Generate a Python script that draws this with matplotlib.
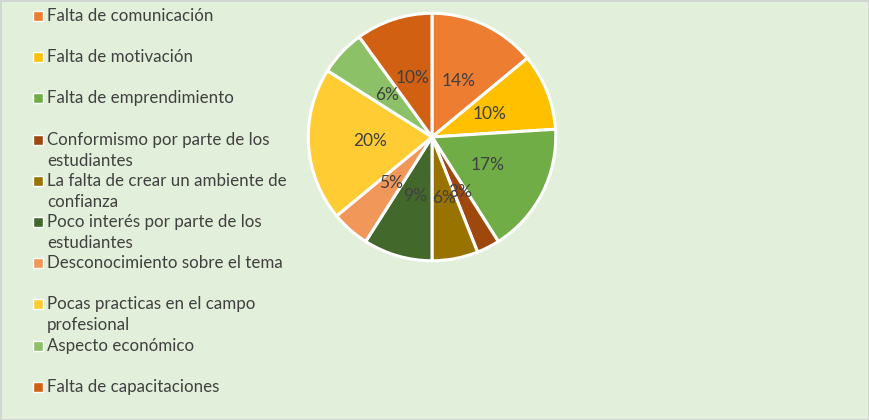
import matplotlib.pyplot as plt
from matplotlib.patches import Rectangle

labels = [
    "Falta de comunicación",
    "Falta de motivación",
    "Falta de emprendimiento",
    "Conformismo por parte de los\nestudiantes",
    "La falta de crear un ambiente de\nconfianza",
    "Poco interés por parte de los\nestudiantes",
    "Desconocimiento sobre el tema",
    "Pocas practicas en el campo\nprofesional",
    "Aspecto económico",
    "Falta de capacitaciones",
]
shares = [14, 10, 17, 3, 6, 9, 5, 20, 6, 10]
colors = ["#ED7D31", "#FFC000", "#70AD47", "#9E480E", "#997300",
          "#43682B", "#F1975A", "#FFCD33", "#8CC168", "#D26012"]

plt.rcParams['font.family'] = ['Lato', 'DejaVu Sans']

W, H = 870, 420
fig = plt.figure(figsize=(W / 100, H / 100), dpi=100)
fig.patch.set_facecolor("#E2EFDA")
fig.patches.append(Rectangle((0.5 / W, 0.5 / H), 1 - 1.5 / W, 1 - 1.5 / H,
                             transform=fig.transFigure, fill=False,
                             edgecolor="#D0D0D0", linewidth=1.2))

# pie centred at (432, 137) px, radius ~124 px
cx, cy, r = 432, 137, 125
ax = fig.add_axes([(cx - r) / W, (H - cy - r) / H, 2 * r / W, 2 * r / H])
ax.set_facecolor("none")
ax.pie(shares, colors=colors, startangle=90, counterclock=False, radius=0.99,
       autopct=lambda p: f"{p:.0f}%", pctdistance=0.5,
       wedgeprops=dict(edgecolor="white", linewidth=2.2),
       textprops=dict(color="#404040", fontsize=12.5))
ax.set_xlim(-1, 1)
ax.set_ylim(-1, 1)
ax.set_aspect("equal")
ax.axis("off")

# legend on the left
for i, (lab, col) in enumerate(zip(labels, colors)):
    y = 16 + 41.2 * i
    fig.patches.append(Rectangle((33 / W, (H - y - 5) / H), 10 / W, 10 / H,
                                 transform=fig.transFigure, facecolor=col,
                                 edgecolor="white", linewidth=1.0))
    for k, line in enumerate(lab.split("\n")):
        fig.text(47 / W, (H - y - 21 * k) / H, line, ha="left", va="center",
                 color="#404040", fontsize=12.2)

fig.savefig("out.png", dpi=100, facecolor=fig.get_facecolor())
